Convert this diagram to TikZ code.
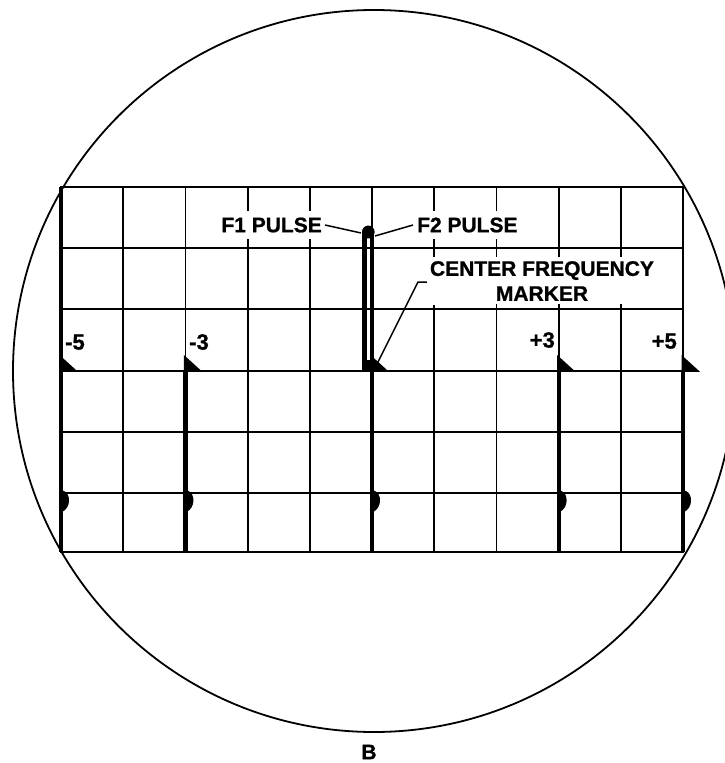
\documentclass[tikz,border=0pt]{standalone}
\usepackage{fontspec}
\setmainfont{Liberation Sans}
\newfontfamily\letfont[FakeBold=1.0]{Liberation Sans}
\begin{document}
\begin{tikzpicture}[x=1pt,y=-1pt,
  lab/.style={font=\letfont\bfseries\fontsize{21}{25}\selectfont, inner xsep=3pt, inner ysep=7pt, fill=white},
  num/.style={font=\letfont\bfseries\fontsize{22}{24}\selectfont, inner sep=0pt},
  gridline/.style={line width=1.8pt},
  leader/.style={line width=1.5pt},
  markerline/.style={line width=4.2pt}]
\useasboundingbox (0,0) rectangle (725,763);
\clip (0,0) rectangle (725,763);
% screen circle
\draw[line width=1.8pt] (374,371) circle (361);
% grid
\foreach \x in {123.2,185.4,247.6,309.8,372,434.2,496.4,558.6,620.8}
  \draw[gridline] (\x,187) -- (\x,552);
\foreach \y in {248,309,371,432,493}
  \draw[gridline] (61,\y) -- (683,\y);
\draw[line width=2.8pt] (61,187) rectangle (683,552);
\draw[line width=3.8pt] (61,187) -- (61,552);
% labels with white backgrounds
\node[lab, anchor=east] (f1) at (325,225) {F1 PULSE};
\node[lab, anchor=west] (f2) at (414,225) {F2 PULSE};
\node[lab, align=center, inner ysep=4pt] (cf) at (542,281) {CENTER FREQUENCY\\MARKER};
\node[lab] (b) at (369,752) {B};
% restore grid stubs at intersections
\foreach \x in {496.4,558.6,620.8}{
  \draw[gridline] (\x,246) -- (\x,253);
  \draw[gridline] (\x,304) -- (\x,311);
}
% frequency markers
\foreach \x in {61,185.4,372,558.6,683}{
  \draw[markerline] (\x,371) -- (\x,552);
  \fill (\x-1.5,355) -- (\x+17,371.8) -- (\x-1.5,371.8) -- cycle;
  \fill (\x-1.5,490) -- (\x+3,491) .. controls (\x+10,494) and (\x+10,508) .. (\x+1,512) -- (\x-1.5,512) -- cycle;
}
% pulses
\draw[line width=5pt] (364.5,372) -- (364.5,233);
\draw[line width=4pt] (372.3,372) -- (372.3,234);
\fill (368.3,232) ellipse (6.3 and 6.5);
\fill (362,360) rectangle (375,372);
% number labels
\node[num, anchor=south west] (m5) at (65,350) {-5};
\node[num, anchor=south west] (m3) at (189,350) {-3};
\node[num, anchor=south east] (p3) at (555,348) {+3};
\node[num, anchor=south east] (p5) at (677,349) {+5};
% leaders
\coordinate (f1tip) at (361,233);
\coordinate (f2tip) at (375,236);
\coordinate (cfknee) at (418,282);
\coordinate (cftip) at (377,364);
\draw[leader] (f1.east) -- (f1tip);
\draw[leader] ([xshift=-1pt]f2.west) -- (f2tip);
\draw[leader] (cf.west |- cfknee) -- (cfknee) -- (cftip);
\end{tikzpicture}
\end{document}
